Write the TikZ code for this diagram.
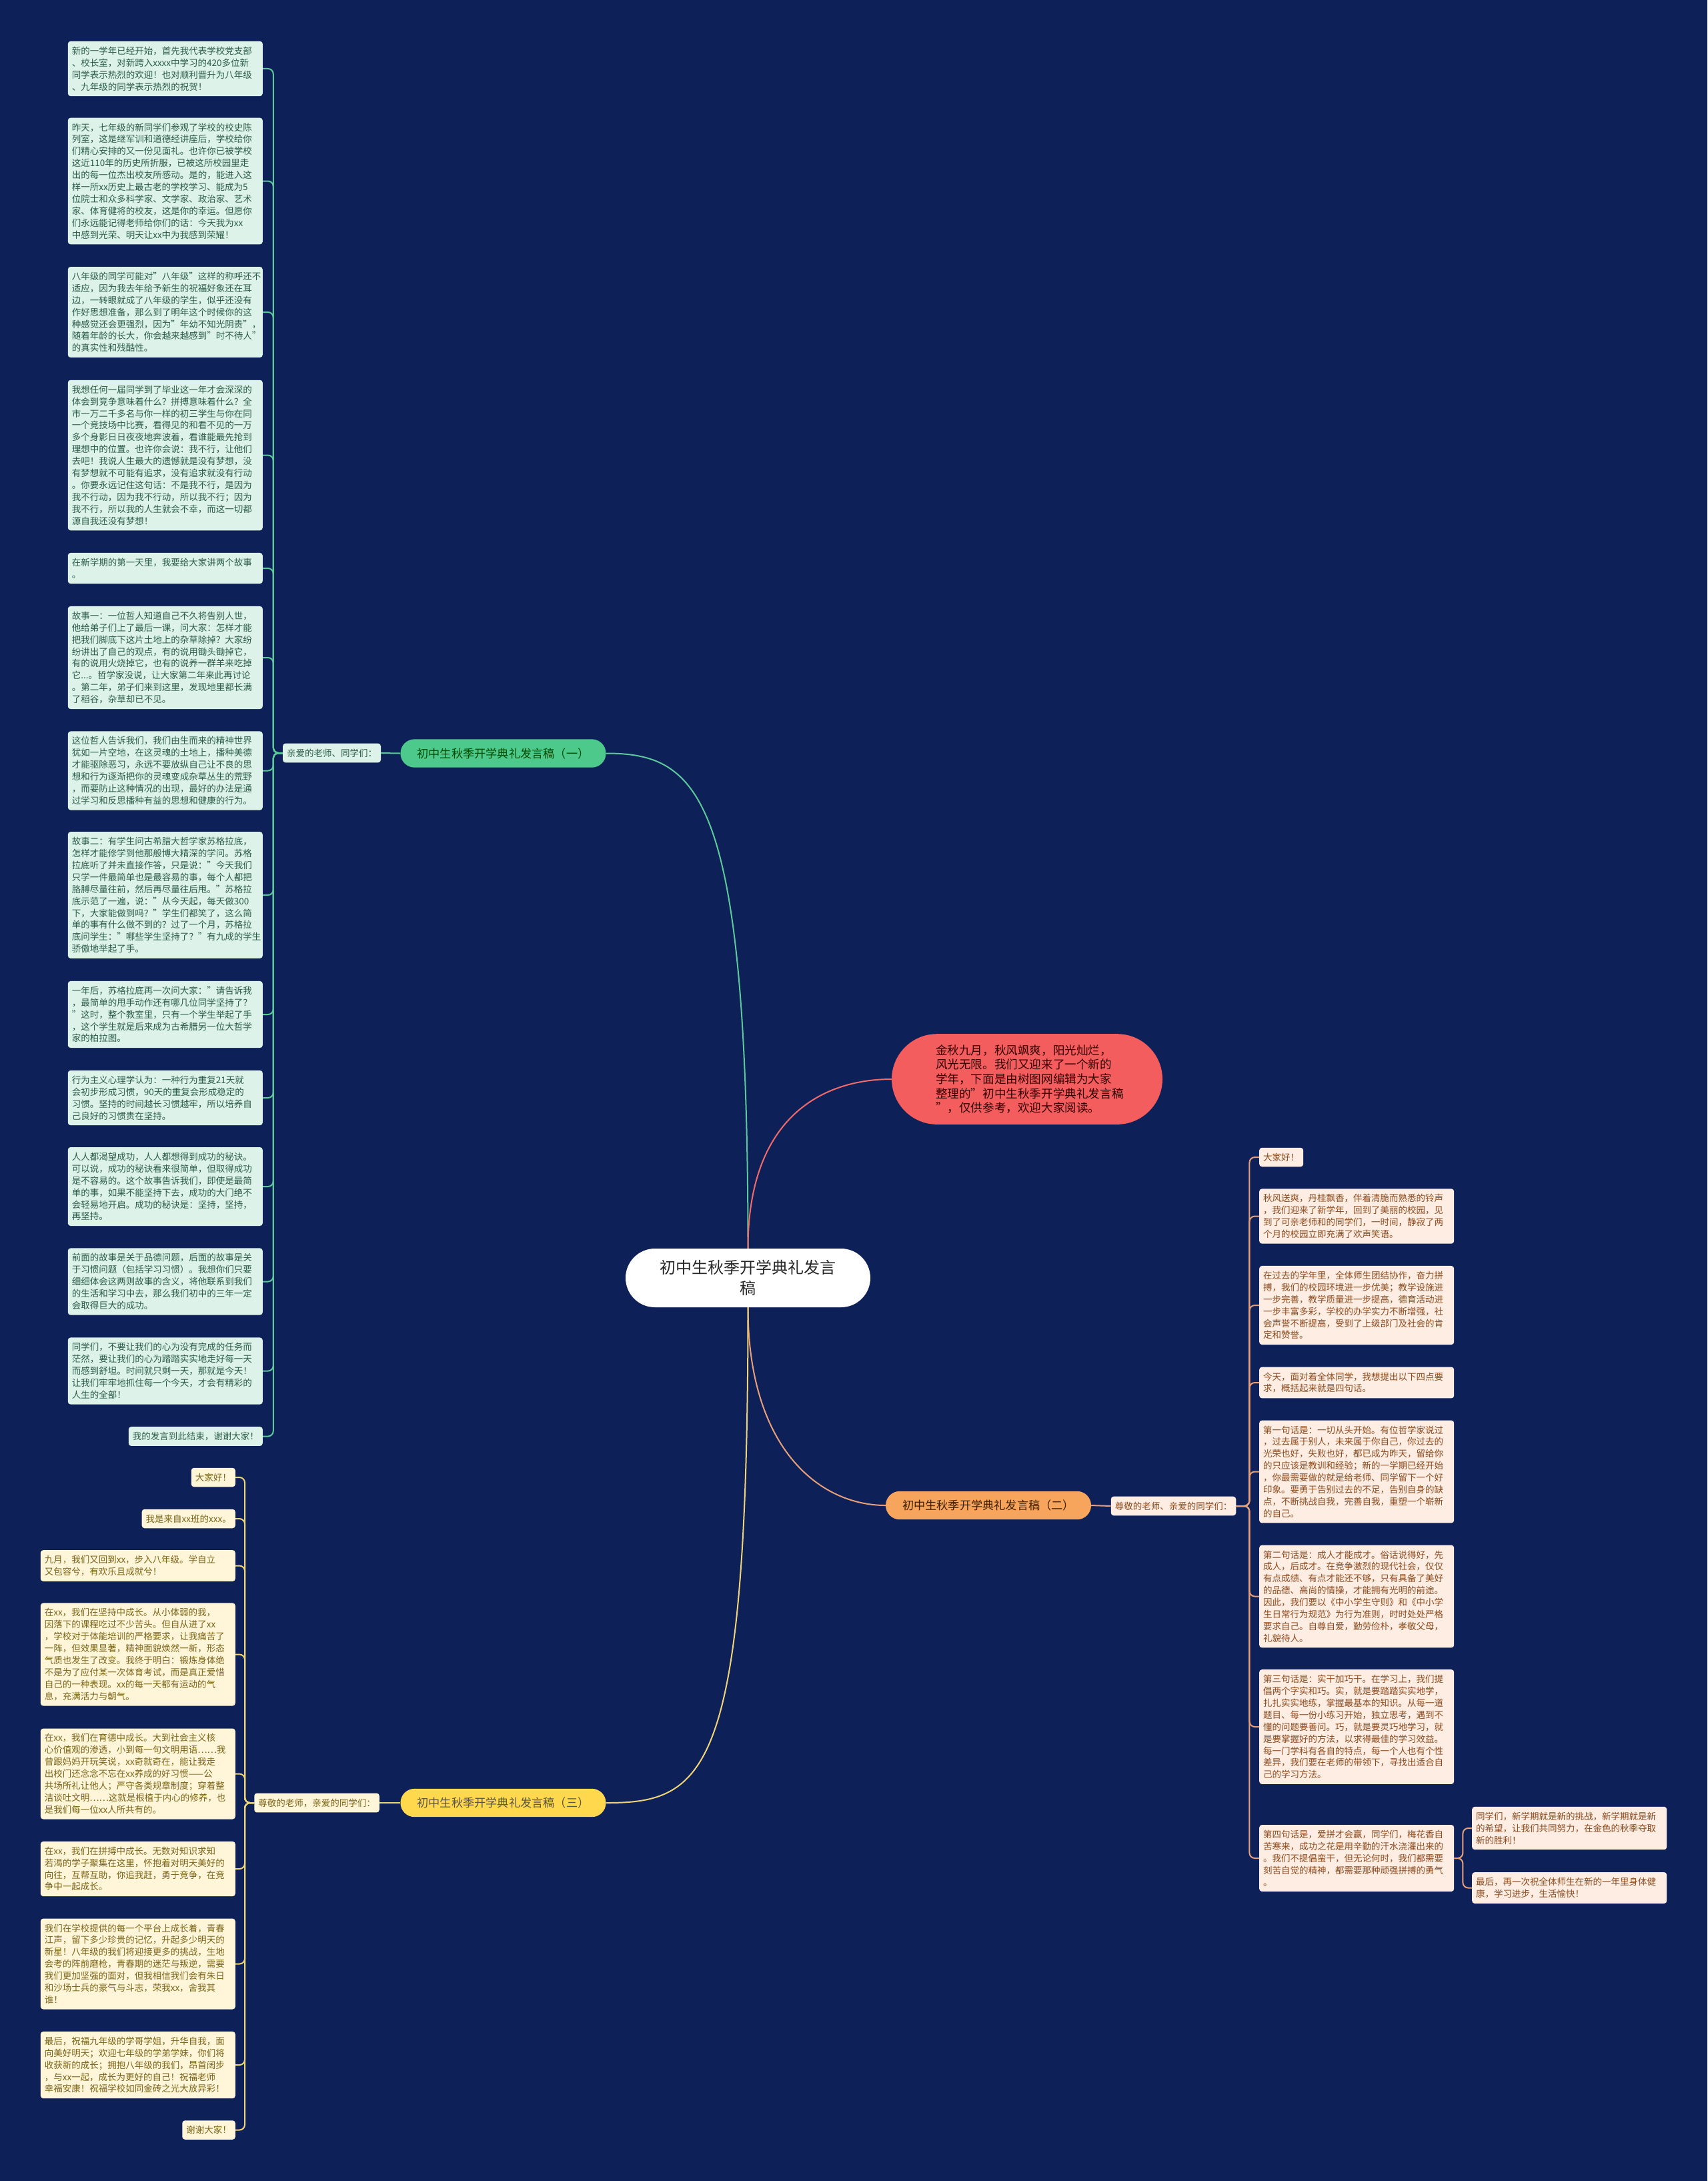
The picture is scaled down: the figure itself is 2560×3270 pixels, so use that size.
\documentclass[tikz,border=0pt]{standalone}
\usepackage{fontspec}
\setmainfont{Noto Sans CJK SC}
\definecolor{bgnavy}{HTML}{0E2058}
\definecolor{gpill}{HTML}{4DC98C}
\definecolor{gline}{HTML}{5BC99A}
\definecolor{gfill}{HTML}{DDF3E9}
\definecolor{gtext}{HTML}{2B5C47}
\definecolor{rpill}{HTML}{F45D5D}
\definecolor{rline}{HTML}{F26B6B}
\definecolor{opill}{HTML}{F7A45C}
\definecolor{oline}{HTML}{E8A07A}
\definecolor{ofill}{HTML}{FDEDE2}
\definecolor{otext}{HTML}{8B4A1E}
\definecolor{ypill}{HTML}{FFD84D}
\definecolor{yline}{HTML}{F0D478}
\definecolor{yfill}{HTML}{FFF6D9}
\definecolor{ytext}{HTML}{7A6418}
\tikzset{
  leaf/.style={rounded corners=4pt, inner xsep=6pt, inner ysep=8pt, align=left,
    font=\fontsize{13.5}{17.9}\selectfont},
  longtext/.style={text width=280pt},
  gleaf/.style={leaf, fill=gfill, text=gtext, anchor=east},
  oleaf/.style={leaf, fill=ofill, text=otext, anchor=west},
  yleaf/.style={leaf, fill=yfill, text=ytext, anchor=east},
  partpill/.style={rounded corners=21pt, inner xsep=25pt, inner ysep=13pt,
    font=\fontsize{17.2}{20}\selectfont},
  conn/.style={line width=2pt},
  elbow/.style={conn, rounded corners=8pt},
}
\begin{document}
\begin{tikzpicture}[x=1pt,y=-1pt]
  \fill[bgnavy] (0,0) rectangle (2560,3270);
  \useasboundingbox (0,0) rectangle (2560,3270);

  % centre and the four main nodes
  \node[fill=white, text=black!85, rounded corners=44pt, align=center, minimum width=367pt,
    minimum height=88pt, font=\fontsize{24}{31}\selectfont] (root) at (1121.5,1916)
    {初中生秋季开学典礼发言\\稿};
  \node[fill=rpill, text=black!80!red, rounded corners=68pt, inner xsep=66pt, inner ysep=16pt,
    text width=274pt, align=left, font=\fontsize{17.6}{21.7}\selectfont] (intro) at (1540,1618)
    {金秋九月，秋风飒爽，阳光灿烂，\\风光无限。我们又迎来了一个新的\\学年，下面是由树图网编辑为大家\\整理的"初中生秋季开学典礼发言稿\\"，仅供参考，欢迎大家阅读。};
  \node[partpill, fill=gpill, text=black!70!green] (part1) at (754.5,1129.5) {初中生秋季开学典礼发言稿（一）};
  \node[partpill, fill=opill, text=black!75!orange] (part2) at (1482,2257) {初中生秋季开学典礼发言稿（二）};
  \node[partpill, fill=ypill, text=black!75!yellow] (part3) at (754.5,2703) {初中生秋季开学典礼发言稿（三）};

  \draw[conn, gline] (root.north) .. controls +(0,-680) and +(140,0) .. (part1.east);
  \draw[conn, rline] (root.north) .. controls +(0,-200) and +(-100,0) .. (intro.west);
  \draw[conn, oline] (root.south) .. controls +(0,210) and +(-100,0) .. (part2.west);
  \draw[conn, yline] (root.south) .. controls +(0,700) and +(150,0) .. (part3.east);

  \node[gleaf, anchor=center] (greet1) at (497.5,1129) {亲爱的老师、同学们：};
  \node[oleaf, anchor=center] (greet2) at (1759.5,2258) {尊敬的老师、亲爱的同学们：};
  \node[yleaf, anchor=center] (greet3) at (475,2703) {尊敬的老师，亲爱的同学们：};
  \draw[conn, gline] (part1.west) -- (greet1.east);
  \draw[conn, oline] (part2.east) -- (greet2.west);
  \draw[conn, yline] (part3.west) -- (greet3.east);

  % speech one
  \node[gleaf, longtext] (a1) at (394,103) {新的一学年已经开始，首先我代表学校党支部\\、校长室，对新跨入xxxx中学习的420多位新\\同学表示热烈的欢迎！也对顺利晋升为八年级\\、九年级的同学表示热烈的祝贺！};
  \node[gleaf, longtext] (a2) at (394,271.5) {昨天，七年级的新同学们参观了学校的校史陈\\列室，这是继军训和道德经讲座后，学校给你\\们精心安排的又一份见面礼。也许你已被学校\\这近110年的历史所折服，已被这所校园里走\\出的每一位杰出校友所感动。是的，能进入这\\样一所xx历史上最古老的学校学习、能成为5\\位院士和众多科学家、文学家、政治家、艺术\\家、体育健将的校友，这是你的幸运。但愿你\\们永远能记得老师给你们的话：今天我为xx\\中感到光荣、明天让xx中为我感到荣耀！};
  \node[gleaf, longtext] (a3) at (394,468) {八年级的同学可能对"八年级"这样的称呼还不\\适应，因为我去年给予新生的祝福好象还在耳\\边，一转眼就成了八年级的学生，似乎还没有\\作好思想准备，那么到了明年这个时候你的这\\种感觉还会更强烈，因为"年幼不知光阴贵"，\\随着年龄的长大，你会越来越感到"时不待人"\\的真实性和残酷性。};
  \node[gleaf, longtext] (a4) at (394,682.5) {我想任何一届同学到了毕业这一年才会深深的\\体会到竞争意味着什么？拼搏意味着什么？全\\市一万二千多名与你一样的初三学生与你在同\\一个竞技场中比赛，看得见的和看不见的一万\\多个身影日日夜夜地奔波着，看谁能最先抢到\\理想中的位置。也许你会说：我不行，让他们\\去吧！我说人生最大的遗憾就是没有梦想，没\\有梦想就不可能有追求，没有追求就没有行动\\。你要永远记住这句话：不是我不行，是因为\\我不行动，因为我不行动，所以我不行；因为\\我不行，所以我的人生就会不幸，而这一切都\\源自我还没有梦想！};
  \node[gleaf, longtext] (a5) at (394,852) {在新学期的第一天里，我要给大家讲两个故事\\。};
  \node[gleaf, longtext] (a6) at (394,986) {故事一：一位哲人知道自己不久将告别人世，\\他给弟子们上了最后一课，问大家：怎样才能\\把我们脚底下这片土地上的杂草除掉？大家纷\\纷讲出了自己的观点，有的说用锄头锄掉它，\\有的说用火烧掉它，也有的说养一群羊来吃掉\\它...。哲学家没说，让大家第二年来此再讨论\\。第二年，弟子们来到这里，发现地里都长满\\了稻谷，杂草却已不见。};
  \node[gleaf, longtext] (a7) at (394,1155.5) {这位哲人告诉我们，我们由生而来的精神世界\\犹如一片空地，在这灵魂的土地上，播种美德\\才能驱除恶习，永远不要放纵自己让不良的思\\想和行为逐渐把你的灵魂变成杂草丛生的荒野\\，而要防止这种情况的出现，最好的办法是通\\过学习和反思播种有益的思想和健康的行为。};
  \node[gleaf, longtext] (a8) at (394,1342) {故事二：有学生问古希腊大哲学家苏格拉底，\\怎样才能修学到他那般博大精深的学问。苏格\\拉底听了并未直接作答，只是说："今天我们\\只学一件最简单也是最容易的事，每个人都把\\胳膊尽量往前，然后再尽量往后甩。"苏格拉\\底示范了一遍，说："从今天起，每天做300\\下，大家能做到吗？"学生们都笑了，这么简\\单的事有什么做不到的？过了一个月，苏格拉\\底问学生："哪些学生坚持了？"有九成的学生\\骄傲地举起了手。};
  \node[gleaf, longtext] (a9) at (394,1521) {一年后，苏格拉底再一次问大家："请告诉我\\，最简单的甩手动作还有哪几位同学坚持了？\\"这时，整个教室里，只有一个学生举起了手\\，这个学生就是后来成为古希腊另一位大哲学\\家的柏拉图。};
  \node[gleaf, longtext] (a10) at (394,1646) {行为主义心理学认为：一种行为重复21天就\\会初步形成习惯，90天的重复会形成稳定的\\习惯。坚持的时间越长习惯越牢，所以培养自\\己良好的习惯贵在坚持。};
  \node[gleaf, longtext] (a11) at (394,1779) {人人都渴望成功，人人都想得到成功的秘诀。\\可以说，成功的秘诀看来很简单，但取得成功\\是不容易的。这个故事告诉我们，即使是最简\\单的事，如果不能坚持下去，成功的大门绝不\\会轻易地开启。成功的秘诀是：坚持，坚持，\\再坚持。};
  \node[gleaf, longtext] (a12) at (394,1921.5) {前面的故事是关于品德问题，后面的故事是关\\于习惯问题（包括学习习惯）。我想你们只要\\细细体会这两则故事的含义，将他联系到我们\\的生活和学习中去，那么我们初中的三年一定\\会取得巨大的成功。};
  \node[gleaf, longtext] (a13) at (394,2055.5) {同学们，不要让我们的心为没有完成的任务而\\茫然，要让我们的心为踏踏实实地走好每一天\\而感到舒坦。时间就只剩一天，那就是今天！\\让我们牢牢地抓住每一个今天，才会有精彩的\\人生的全部！};
  \node[gleaf] (a14) at (394,2153.5) {我的发言到此结束，谢谢大家！};

  \draw[elbow, gline] (greet1.west) -- ++(-14,0) |- (a1.east);
  \draw[elbow, gline] (greet1.west) -- ++(-14,0) |- (a2.east);
  \draw[elbow, gline] (greet1.west) -- ++(-14,0) |- (a3.east);
  \draw[elbow, gline] (greet1.west) -- ++(-14,0) |- (a4.east);
  \draw[elbow, gline] (greet1.west) -- ++(-14,0) |- (a5.east);
  \draw[elbow, gline] (greet1.west) -- ++(-14,0) |- (a6.east);
  \draw[elbow, gline] (greet1.west) -- ++(-14,0) |- (a7.east);
  \draw[elbow, gline] (greet1.west) -- ++(-14,0) |- (a8.east);
  \draw[elbow, gline] (greet1.west) -- ++(-14,0) |- (a9.east);
  \draw[elbow, gline] (greet1.west) -- ++(-14,0) |- (a10.east);
  \draw[elbow, gline] (greet1.west) -- ++(-14,0) |- (a11.east);
  \draw[elbow, gline] (greet1.west) -- ++(-14,0) |- (a12.east);
  \draw[elbow, gline] (greet1.west) -- ++(-14,0) |- (a13.east);
  \draw[elbow, gline] (greet1.west) -- ++(-14,0) |- (a14.east);

  % speech two
  \node[oleaf] (b1) at (1888,1735) {大家好！};
  \node[oleaf, longtext] (b2) at (1888,1823.5) {秋风送爽，丹桂飘香，伴着清脆而熟悉的铃声\\，我们迎来了新学年，回到了美丽的校园，见\\到了可亲老师和的同学们，一时间，静寂了两\\个月的校园立即充满了欢声笑语。};
  \node[oleaf, longtext] (b3) at (1888,1957) {在过去的学年里，全体师生团结协作，奋力拼\\搏，我们的校园环境进一步优美；教学设施进\\一步完善，教学质量进一步提高，德育活动进\\一步丰富多彩，学校的办学实力不断增强，社\\会声誉不断提高，受到了上级部门及社会的肯\\定和赞誉。};
  \node[oleaf, longtext] (b4) at (1888,2073) {今天，面对着全体同学，我想提出以下四点要\\求，概括起来就是四句话。};
  \node[oleaf, longtext] (b5) at (1888,2206.5) {第一句话是：一切从头开始。有位哲学家说过\\，过去属于别人，未来属于你自己，你过去的\\光荣也好，失败也好，都已成为昨天，留给你\\的只应该是教训和经验；新的一学期已经开始\\，你最需要做的就是给老师、同学留下一个好\\印象。要勇于告别过去的不足，告别自身的缺\\点，不断挑战自我，完善自我，重塑一个崭新\\的自己。};
  \node[oleaf, longtext] (b6) at (1888,2393.5) {第二句话是：成人才能成才。俗话说得好，先\\成人，后成才。在竞争激烈的现代社会，仅仅\\有点成绩、有点才能还不够，只有具备了美好\\的品德、高尚的情操，才能拥有光明的前途。\\因此，我们要以《中小学生守则》和《中小学\\生日常行为规范》为行为准则，时时处处严格\\要求自己。自尊自爱，勤劳俭朴，孝敬父母，\\礼貌待人。};
  \node[oleaf, longtext] (b7) at (1888,2589) {第三句话是：实干加巧干。在学习上，我们提\\倡两个字实和巧。实，就是要踏踏实实地学，\\扎扎实实地练，掌握最基本的知识。从每一道\\题目、每一份小练习开始，独立思考，遇到不\\懂的问题要善问。巧，就是要灵巧地学习，就\\是要掌握好的方法，以求得最佳的学习效益。\\每一门学科有各自的特点，每一个人也有个性\\差异，我们要在老师的带领下，寻找出适合自\\己的学习方法。};
  \node[oleaf, longtext] (b8) at (1888,2786) {第四句话是，爱拼才会赢，同学们，梅花香自\\苦寒来，成功之花是用辛勤的汗水浇灌出来的\\。我们不提倡蛮干，但无论何时，我们都需要\\刻苦自觉的精神，都需要那种顽强拼搏的勇气\\。};
  \node[oleaf, longtext] (b9) at (2207,2741) {同学们，新学期就是新的挑战，新学期就是新\\的希望，让我们共同努力，在金色的秋季夺取\\新的胜利！};
  \node[oleaf, longtext] (b10) at (2207,2830.5) {最后，再一次祝全体师生在新的一年里身体健\\康，学习进步，生活愉快！};

  \draw[elbow, oline] (greet2.east) -- ++(20,0) |- (b1.west);
  \draw[elbow, oline] (greet2.east) -- ++(20,0) |- (b2.west);
  \draw[elbow, oline] (greet2.east) -- ++(20,0) |- (b3.west);
  \draw[elbow, oline] (greet2.east) -- ++(20,0) |- (b4.west);
  \draw[elbow, oline] (greet2.east) -- ++(20,0) |- (b5.west);
  \draw[elbow, oline] (greet2.east) -- ++(20,0) |- (b6.west);
  \draw[elbow, oline] (greet2.east) -- ++(20,0) |- (b7.west);
  \draw[elbow, oline] (greet2.east) -- ++(20,0) |- (b8.west);
  \draw[elbow, oline] (b8.east) -- ++(13,0) |- (b9.west);
  \draw[elbow, oline] (b8.east) -- ++(13,0) |- (b10.west);

  % speech three
  \node[yleaf] (c1) at (353,2215) {大家好！};
  \node[yleaf] (c2) at (353,2277) {我是来自xx班的xxx。};
  \node[yleaf, longtext] (c3) at (353,2347.5) {九月，我们又回到xx，步入八年级。学自立\\又包容兮，有欢乐且成就兮！};
  \node[yleaf, longtext] (c4) at (353,2480.5) {在xx，我们在坚持中成长。从小体弱的我，\\因落下的课程吃过不少苦头。但自从进了xx\\，学校对于体能培训的严格要求，让我痛苦了\\一阵，但效果显著，精神面貌焕然一新，形态\\气质也发生了改变。我终于明白：锻炼身体绝\\不是为了应付某一次体育考试，而是真正爱惜\\自己的一种表现。xx的每一天都有运动的气\\息，充满活力与朝气。};
  \node[yleaf, longtext] (c5) at (353,2659.5) {在xx，我们在育德中成长。大到社会主义核\\心价值观的渗透，小到每一句文明用语……我\\曾跟妈妈开玩笑说，xx奇就奇在，能让我走\\出校门还念念不忘在xx养成的好习惯——公\\共场所礼让他人；严守各类规章制度；穿着整\\洁谈吐文明……这就是根植于内心的修养，也\\是我们每一位xx人所共有的。};
  \node[yleaf, longtext] (c6) at (353,2802) {在xx，我们在拼搏中成长。无数对知识求知\\若渴的学子聚集在这里，怀抱着对明天美好的\\向往，互帮互助，你追我赶，勇于竞争，在竞\\争中一起成长。};
  \node[yleaf, longtext] (c7) at (353,2944.5) {我们在学校提供的每一个平台上成长着，青春\\江声，留下多少珍贵的记忆，升起多少明天的\\新星！八年级的我们将迎接更多的挑战，生地\\会考的阵前磨枪，青春期的迷茫与叛逆，需要\\我们更加坚强的面对，但我相信我们会有朱日\\和沙场士兵的豪气与斗志，荣我xx，舍我其\\谁！};
  \node[yleaf, longtext] (c8) at (353,3096) {最后，祝福九年级的学哥学姐，升华自我，面\\向美好明天；欢迎七年级的学弟学妹，你们将\\收获新的成长；拥抱八年级的我们，昂首阔步\\，与xx一起，成长为更好的自己！祝福老师\\幸福安康！祝福学校如同金砖之光大放异彩！};
  \node[yleaf] (c9) at (353,3193.5) {谢谢大家！};

  \draw[elbow, yline] (greet3.west) -- ++(-14,0) |- (c1.east);
  \draw[elbow, yline] (greet3.west) -- ++(-14,0) |- (c2.east);
  \draw[elbow, yline] (greet3.west) -- ++(-14,0) |- (c3.east);
  \draw[elbow, yline] (greet3.west) -- ++(-14,0) |- (c4.east);
  \draw[elbow, yline] (greet3.west) -- ++(-14,0) |- (c5.east);
  \draw[elbow, yline] (greet3.west) -- ++(-14,0) |- (c6.east);
  \draw[elbow, yline] (greet3.west) -- ++(-14,0) |- (c7.east);
  \draw[elbow, yline] (greet3.west) -- ++(-14,0) |- (c8.east);
  \draw[elbow, yline] (greet3.west) -- ++(-14,0) |- (c9.east);
\end{tikzpicture}
\end{document}
